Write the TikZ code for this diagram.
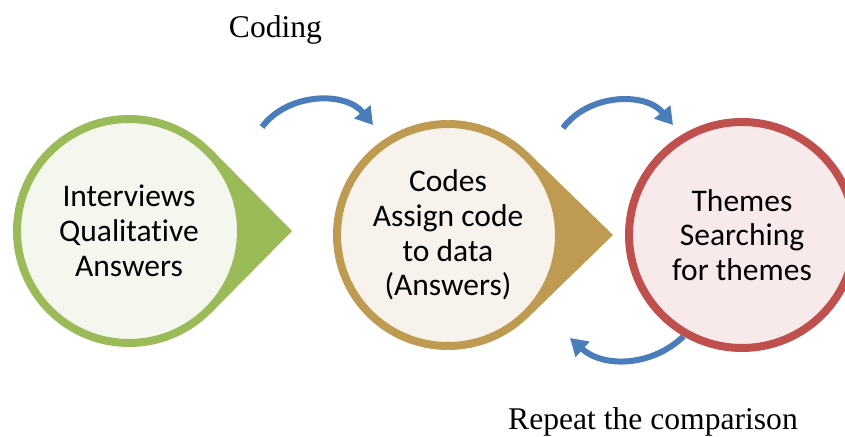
\documentclass[tikz,border=0pt]{standalone}
\usepackage{fontspec}
\setmainfont{Liberation Serif}
\newfontfamily\calib[Ligatures=NoCommon]{Carlito}
\usepackage{xcolor}
\usetikzlibrary{positioning,arrows.meta,calc,backgrounds}
\definecolor{grn}{HTML}{9BBB59}
\definecolor{grnlt}{HTML}{F3F7EE}
\definecolor{gold}{HTML}{BF9B52}
\definecolor{goldlt}{HTML}{F7F3EC}
\definecolor{rd}{HTML}{C0504D}
\definecolor{rdlt}{HTML}{F8EAEA}
\definecolor{blu}{HTML}{4A7EBB}

\begin{document}
\begin{tikzpicture}[x=0.5pt, y=0.5pt, on grid,
    stage/.style={circle, line width=4pt, inner sep=0pt, align=center,
        font=\calib\fontsize{15.75}{17.4}\selectfont},
    flow/.style={line width=3pt, blu, -{Triangle[length=8.5pt,width=10pt]}},
    caption/.style={anchor=base, font=\fontsize{15.8}{19}\selectfont}]

    \useasboundingbox (0,0) rectangle (845,437);

    \node[stage, draw=grn, fill=grnlt, minimum size=112pt] (inter) at (129,206) {Interviews\\Qualitative\\Answers};
    \node[stage, draw=gold, fill=goldlt, minimum size=111pt] (codes) [right=159.5pt of inter, yshift=-2pt] {Codes\\Assign code\\to data\\(Answers)};
    \node[stage, draw=rd, fill=rdlt, minimum size=113pt] (themes) [right=147pt of codes] {Themes\\Searching\\for themes};

    \node[coordinate] (tipA) [right=81.5pt of inter] {};
    \node[coordinate] (tipB) [right=82.5pt of codes] {};

    \begin{scope}[on background layer]
        \fill[grn] (tipA) -- (tangent cs:node=inter,point={(tipA)},solution=1)
            -- (tangent cs:node=inter,point={(tipA)},solution=2) -- cycle;
        \fill[gold] (tipB) -- (tangent cs:node=codes,point={(tipB)},solution=1)
            -- (tangent cs:node=codes,point={(tipB)},solution=2) -- cycle;
    \end{scope}

    \coordinate (a1s) at (262,310);
    \coordinate (a1e) at (373,312);
    \coordinate (a2s) at (563,309);
    \coordinate (a2e) at (673,312);
    \coordinate (a3e) at (570,99);

    \path[flow]
        (a1s) edge[bend left=52] (a1e)
        (a2s) edge[bend left=52] (a2e)
        (themes.240) edge[bend left=43] (a3e);

    \node[caption] (coding) at (275.5,399) {Coding};
    \node[caption] (repeat) at (653,7) {Repeat the comparison};

\end{tikzpicture}
\end{document}
